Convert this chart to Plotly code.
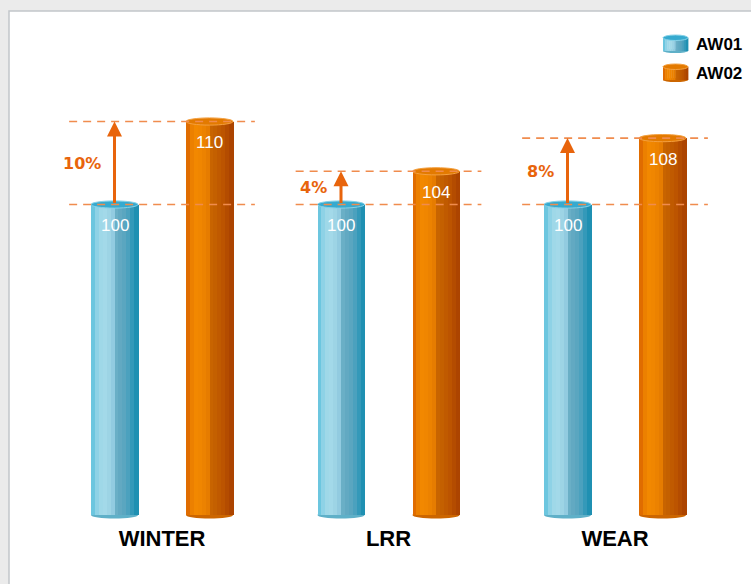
import plotly.graph_objects as go

# ---------------- data ----------------
categories = ["WINTER", "LRR", "WEAR"]
series_names = ["AW01", "AW02"]
aw01 = [100, 100, 100]
aw02 = [110, 104, 108]
series_values = [aw01, aw02]

# ---------------- style / layout constants ----------------
W, H = 751, 584
ML, MR, MT, MB = 0, 0, 11, 62
PX_PER_CAT = 226.5
CAT0_PX = 162
PX_PER_UNIT = 8.3
REF_VAL, REF_PX = 100, 204.5
FLOOR_PX = 515
BAR_W_PX = 47
BAR_OFF_PX = 47.5

plot_w = W - ML - MR
plot_h = H - MT - MB
x_lo = -(CAT0_PX - ML) / PX_PER_CAT
x_hi = x_lo + plot_w / PX_PER_CAT
y_hi = REF_VAL + (REF_PX - MT) / PX_PER_UNIT
y_lo = REF_VAL - (H - MB - REF_PX) / PX_PER_UNIT
floor = REF_VAL - (FLOOR_PX - REF_PX) / PX_PER_UNIT

bw = BAR_W_PX / PX_PER_CAT
boff = BAR_OFF_PX / PX_PER_CAT
cap_h = 3.6 / PX_PER_UNIT

blue_grad = ["#6cc6df", "#8ed2e6", "#9fd8e8", "#a3d9e9", "#9dd4e5", "#92cbe0",
             "#6aafc6", "#62a9c2", "#5aa6c0", "#4ba1be", "#3499b9", "#1f90b2"]
orange_grad = ["#e06c00", "#ec8000", "#f28800", "#f08600", "#ec8200", "#e67c00",
               "#c86400", "#c46000", "#c05a00", "#bc5400", "#b44c00", "#ac4400"]
grads = [blue_grad, orange_grad]
cap_fill = ["#36aacf", "#e37a00"]
cap_line = ["#86d2e8", "#f4a040"]
bottom_fill = ["#5fb0c8", "#cc6600"]
accent = "#e8640c"
dash_col = "#f08c4e"

def px2paper(px, py):
    return (px - ML) / plot_w, (H - MB - py) / plot_h

xs = list(range(len(categories)))
fig = go.Figure()

# cylinder bodies built from thin gradient slices
for si, vals in enumerate(series_values):
    grad = grads[si]
    n = len(grad)
    sw = bw / n
    center_off = -boff if si == 0 else boff
    for k, col in enumerate(grad):
        fig.add_trace(go.Bar(
            x=xs, y=[v - floor for v in vals], base=floor,
            width=sw * 1.15, offset=center_off - bw / 2 + k * sw,
            marker=dict(color=col, line=dict(width=0)),
            showlegend=False, hoverinfo="skip"))

shapes = []
# white panel
px0, py0 = px2paper(9, 11)
px1, py1 = px2paper(760, 600)
shapes.append(dict(type="rect", xref="paper", yref="paper", x0=px0, y0=py1, x1=px1, y1=py0,
                   fillcolor="white", line=dict(color="#c2c6ca", width=1.5), layer="below"))

annotations = []
for i, cat in enumerate(categories):
    for si, vals in enumerate(series_values):
        c = i + (-boff if si == 0 else boff)
        v = vals[i]
        # bottom cap
        shapes.append(dict(type="circle", xref="x", yref="y", x0=c - bw / 2, x1=c + bw / 2,
                           y0=floor - cap_h, y1=floor + cap_h, fillcolor=bottom_fill[si],
                           line=dict(width=0), layer="below"))
        # top cap
        shapes.append(dict(type="circle", xref="x", yref="y", x0=c - bw / 2, x1=c + bw / 2,
                           y0=v - cap_h, y1=v + cap_h, fillcolor=cap_fill[si],
                           line=dict(color=cap_line[si], width=1)))
        # value label
        annotations.append(dict(x=c, y=v, xref="x", yref="y", text=str(v), showarrow=False,
                                yshift=-21, font=dict(family="Liberation Sans, Arial", size=17, color="white")))
    # dashed reference lines
    for lvl in (aw01[i], aw02[i]):
        shapes.append(dict(type="line", xref="x", yref="y", x0=i - 0.41, x1=i + 0.41, y0=lvl, y1=lvl,
                           line=dict(color=dash_col, width=1.6, dash="8px,6px")))
    # arrow
    ca = i - boff
    annotations.append(dict(x=ca, y=aw02[i], ax=ca, ay=aw01[i], xref="x", yref="y", axref="x", ayref="y",
                            showarrow=True, arrowhead=2, arrowsize=1, arrowwidth=3, arrowcolor=accent, text=""))
    pct = round((aw02[i] - aw01[i]) / aw01[i] * 100)
    annotations.append(dict(x=ca, y=(aw01[i] + aw02[i]) / 2, xref="x", yref="y", text=f"{pct}%",
                            showarrow=False, xanchor="right", xshift=-12,
                            font=dict(family="DejaVu Sans", size=16, color=accent, weight="bold")))

# custom legend
leg_y = [44, 73]
for si, name in enumerate(series_names):
    cy = leg_y[si]
    grad = grads[si]
    lx0, lx1 = 663, 688
    n = len(grad)
    step = (lx1 - lx0) / n
    for k, col in enumerate(grad):
        a0, b0 = px2paper(lx0 + k * step, cy + 7)
        a1, b1 = px2paper(lx0 + (k + 1) * step + 0.4, cy - 6)
        shapes.append(dict(type="rect", xref="paper", yref="paper", x0=a0, x1=a1, y0=b0, y1=b1,
                           fillcolor=col, line=dict(width=0)))
    a0, b0 = px2paper(lx0, cy + 9)
    a1, b1 = px2paper(lx1, cy + 5)
    shapes.append(dict(type="circle", xref="paper", yref="paper", x0=a0, x1=a1, y0=b0, y1=b1,
                       fillcolor=bottom_fill[si], line=dict(width=0), layer="below"))
    a0, b0 = px2paper(lx0, cy - 3.5)
    a1, b1 = px2paper(lx1, cy - 9)
    shapes.append(dict(type="circle", xref="paper", yref="paper", x0=a0, x1=a1, y0=b0, y1=b1,
                       fillcolor=cap_fill[si], line=dict(color=cap_line[si], width=1)))
    tx, ty = px2paper(694, cy)
    annotations.append(dict(x=tx, y=ty, xref="paper", yref="paper", text=name, showarrow=False,
                            xanchor="left", yanchor="middle",
                            font=dict(family="Liberation Sans, Arial", size=17, color="black", weight="bold")))

fig.update_layout(
    width=W, height=H, margin=dict(l=ML, r=MR, t=MT, b=MB),
    paper_bgcolor="#ebebeb", plot_bgcolor="rgba(0,0,0,0)",
    barmode="overlay", bargap=0, showlegend=False,
    shapes=shapes, annotations=annotations,
    xaxis=dict(range=[x_lo, x_hi], tickvals=xs, ticktext=categories, showgrid=False, zeroline=False,
               showline=False, ticks="", ticklabelstandoff=1, fixedrange=True,
               tickfont=dict(family="Liberation Sans, Arial", size=22, color="black", weight="bold")),
    yaxis=dict(range=[y_lo, y_hi], visible=False, fixedrange=True),
)

fig.write_html("out.html", config={"displayModeBar": False},
               post_script="document.body.style.margin='0';document.body.style.background='#ebebeb';document.body.style.overflow='hidden';")
